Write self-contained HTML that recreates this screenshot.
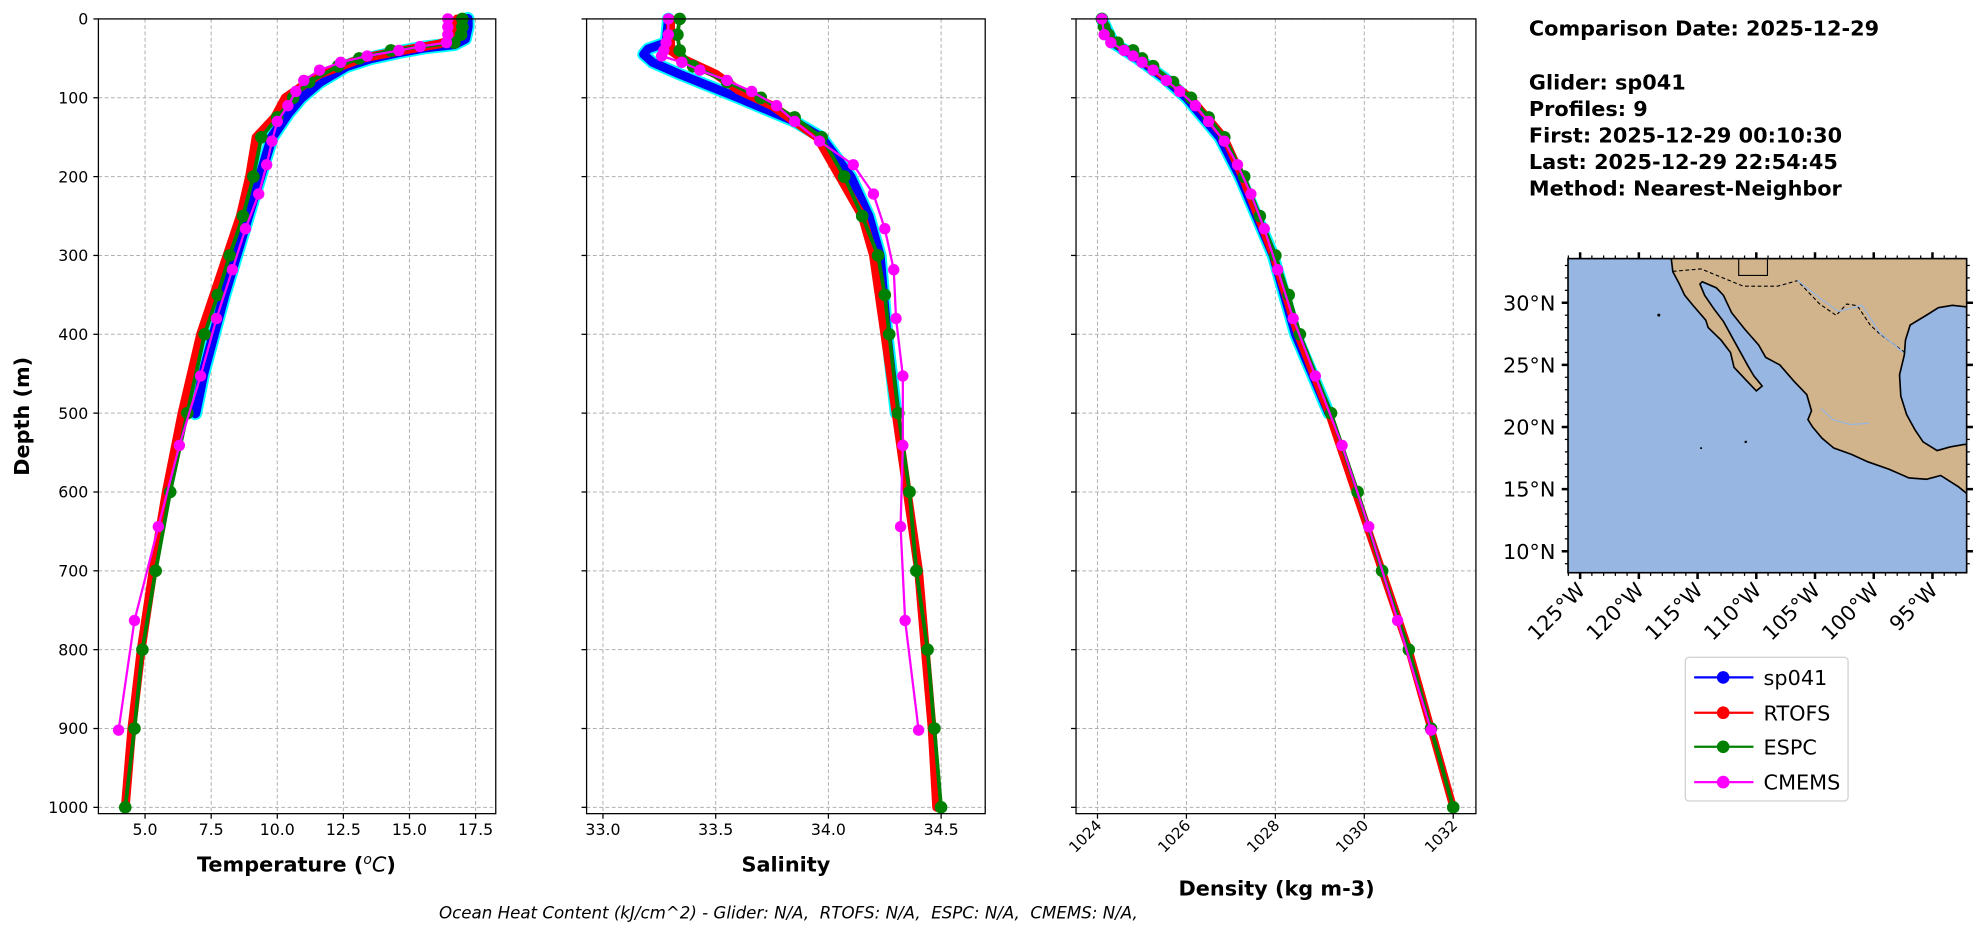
<!DOCTYPE html>
<html><head><meta charset="utf-8"><style>
html,body{margin:0;padding:0;background:#fff;}
svg{display:block;font-family:"DejaVu Sans","Liberation Sans",sans-serif;}
</style></head><body>
<svg id="s" width="1978" height="934" viewBox="0 0 1568 740.4" preserveAspectRatio="none" xmlns="http://www.w3.org/2000/svg"></svg>
<script>
const S=document.getElementById('s');let h='';
const Y0=15,PY=0.625; const yd=d=>Y0+d*PY; const YB=645;
function axes(x0,x1,ticks,labelfn,rot,depthLabels){
 let o='';
 ticks.forEach(t=>{const x=labelfn(t);o+=`<line x1="${x}" y1="${Y0}" x2="${x}" y2="${YB}" stroke="#b0b0b0" stroke-width="0.8" stroke-dasharray="3,2"/>`;
 o+=`<line x1="${x}" y1="${YB}" x2="${x}" y2="${YB+4}" stroke="#000"/>`;});
 for(let d=0;d<=1000;d+=100){const y=yd(d);o+=`<line x1="${x0}" y1="${y}" x2="${x1}" y2="${y}" stroke="#b0b0b0" stroke-width="0.8" stroke-dasharray="3,2"/><line x1="${x0-4}" y1="${y}" x2="${x0}" y2="${y}" stroke="#000"/>`;
 if(depthLabels)o+=`<text x="${x0-8}" y="${y+4.5}" font-size="12.5" text-anchor="end">${d}</text>`;}
 return o;}
function series(pts,fx,col,w,r){
 let d=pts.map((p,i)=>(i?'L':'M')+fx(p[1]).toFixed(1)+','+yd(p[0]).toFixed(1)).join('');
 let o=`<path d="${d}" fill="none" stroke="${col}" stroke-width="${w}" stroke-linejoin="round" stroke-linecap="round"/>`;
 if(r)pts.forEach(p=>o+=`<circle cx="${fx(p[1]).toFixed(1)}" cy="${yd(p[0]).toFixed(1)}" r="${r}" fill="${col}"/>`);
 return o;}
const fT=t=>115+(t-5)*20.96;
const gT=[[0,17.2],[10,17.2],[25,17.1],[32,16.7],[36,15.6],[42,14.6],[50,13.5],[60,12.6],[80,11.6],[100,10.9],[120,10.4],[150,9.8],[200,9.35],[250,8.9],[300,8.45],[350,8.0],[400,7.6],[450,7.2],[500,6.9]];
const rT=[[0,16.8],[25,16.7],[32,16.1],[36,15.4],[42,14.4],[50,13.2],[70,11.6],[100,10.3],[125,9.9],[150,9.2],[200,8.95],[250,8.6],[300,8.1],[350,7.6],[400,7.1],[500,6.4],[600,5.8],[700,5.3],[800,4.85],[900,4.5],[1000,4.25]];
const eT=[[0,17.0],[10,17.0],[20,16.95],[30,16.7],[40,14.3],[50,13.1],[60,12.3],[80,11.2],[100,10.6],[125,10.0],[150,9.4],[200,9.1],[250,8.7],[300,8.2],[350,7.75],[400,7.25],[500,6.6],[600,5.95],[700,5.4],[800,4.9],[900,4.6],[1000,4.25]];
const cT=[[0,16.45],[10,16.45],[20,16.45],[30,16.4],[35,15.4],[40,14.6],[47,13.4],[55,12.4],[65,11.6],[78,11.0],[92,10.7],[110,10.4],[130,10.0],[155,9.8],[185,9.6],[222,9.3],[266,8.8],[318,8.3],[380,7.7],[453,7.1],[541,6.3],[644,5.5],[763,4.6],[902,4.0]];
h+=axes(78,393,[5,7.5,10,12.5,15,17.5],fT,0,true);
h+=series(gT,fT,'cyan',11,0)+series(gT,fT,'blue',8,0)+series(rT,fT,'red',7,0)+series(eT,fT,'green',3,5)+series(cT,fT,'magenta',1.8,4.5);
[5,7.5,10,12.5,15,17.5].forEach(t=>h+=`<text x="${fT(t)}" y="${YB+17}" font-size="12.5" text-anchor="middle">${t.toFixed(1)}</text>`);
const fS=s=>478+(s-33)*178.7;
const gS=[[0,33.29],[30,33.28],[38,33.2],[45,33.18],[55,33.22],[70,33.34],[100,33.6],[130,33.85],[150,33.97],[200,34.1],[250,34.18],[300,34.23],[400,34.26],[500,34.3]];
const rS=[[0,33.3],[40,33.3],[50,33.35],[70,33.5],[90,33.6],[110,33.75],[150,33.95],[200,34.05],[250,34.15],[300,34.2],[400,34.25],[500,34.3],[600,34.35],[700,34.4],[800,34.43],[900,34.46],[1000,34.48]];
const eS=[[0,33.34],[20,33.33],[40,33.34],[60,33.4],[80,33.55],[100,33.7],[125,33.85],[150,33.97],[200,34.07],[250,34.15],[300,34.22],[350,34.25],[400,34.27],[500,34.31],[600,34.36],[700,34.39],[800,34.44],[900,34.47],[1000,34.5]];
const cS=[[0,33.29],[20,33.29],[30,33.28],[40,33.27],[47,33.26],[55,33.35],[65,33.43],[78,33.55],[92,33.66],[110,33.77],[130,33.85],[155,33.96],[185,34.11],[222,34.2],[266,34.25],[318,34.29],[380,34.3],[453,34.33],[541,34.33],[644,34.32],[763,34.34],[902,34.4]];
h+=axes(465,781,[33,33.5,34,34.5],fS,0,false);
h+=series(gS,fS,'cyan',10,0)+series(gS,fS,'blue',7,0)+series(rS,fS,'red',7,0)+series(eS,fS,'green',3,5)+series(cS,fS,'magenta',1.8,4.5);
[33,33.5,34,34.5].forEach(t=>h+=`<text x="${fS(t)}" y="${YB+17}" font-size="12.5" text-anchor="middle">${t.toFixed(1)}</text>`);
const fD=v=>870+(v-1024)*35.25;
const gD=[[0,1024.1],[30,1024.35],[50,1024.9],[75,1025.5],[100,1026.0],[150,1026.75],[200,1027.2],[300,1027.95],[400,1028.45],[500,1029.2]];
const rD=[[0,1024.05],[30,1024.35],[50,1024.95],[100,1026.1],[150,1026.85],[200,1027.25],[300,1027.95],[400,1028.5],[500,1029.2],[600,1029.8],[700,1030.4],[800,1031.0],[900,1031.5],[1000,1032.0]];
const eD=[[0,1024.1],[10,1024.15],[20,1024.25],[30,1024.45],[40,1024.8],[50,1025.0],[60,1025.25],[80,1025.7],[100,1026.1],[125,1026.5],[150,1026.85],[200,1027.3],[250,1027.65],[300,1028.0],[350,1028.3],[400,1028.55],[500,1029.25],[600,1029.85],[700,1030.4],[800,1031.0],[900,1031.5],[1000,1032.0]];
const cD=[[0,1024.1],[20,1024.15],[30,1024.3],[40,1024.6],[47,1024.8],[55,1025.0],[65,1025.25],[78,1025.55],[92,1025.85],[110,1026.2],[130,1026.5],[155,1026.85],[185,1027.15],[222,1027.45],[266,1027.75],[318,1028.05],[380,1028.4],[453,1028.9],[541,1029.5],[644,1030.1],[763,1030.75],[902,1031.5]];
h+=axes(853,1170,[1024,1026,1028,1030,1032],fD,0,false);
h+=series(gD,fD,'cyan',10,0)+series(gD,fD,'blue',7,0)+series(rD,fD,'red',6,0)+series(eD,fD,'green',3,5)+series(cD,fD,'magenta',1.8,4.5);
[1024,1026,1028,1030,1032].forEach(t=>{const x=fD(t);h+=`<text transform="translate(${x+4},${YB+10}) rotate(-45)" font-size="12" text-anchor="end">${t}</text>`;});
[[78,393],[465,781],[853,1170]].forEach(a=>h+=`<rect x="${a[0]}" y="${Y0}" width="${a[1]-a[0]}" height="${YB-Y0}" fill="none" stroke="#000" stroke-width="1"/>`);
h+=`<text x="235" y="691" font-size="16.5" font-weight="bold" text-anchor="middle">Temperature (<tspan font-style="italic" font-weight="normal" font-size="11" dy="-6">o</tspan><tspan font-style="italic" font-weight="normal" dy="6">C</tspan>)</text>`;
h+=`<text x="623" y="691" font-size="16.5" font-weight="bold" text-anchor="middle">Salinity</text>`;
h+=`<text x="1012" y="710" font-size="16.5" font-weight="bold" text-anchor="middle">Density (kg m-3)</text>`;
h+=`<text transform="translate(23,330) rotate(-90)" font-size="16.5" font-weight="bold" text-anchor="middle">Depth (m)</text>`;
h+=`<text x="625" y="728" font-size="13.2" font-style="italic" text-anchor="middle" xml:space="preserve" style="white-space:pre">Ocean Heat Content (kJ/cm^2) - Glider: N/A,  RTOFS: N/A,  ESPC: N/A,  CMEMS: N/A,</text>`;
const info=[[28,'Comparison Date: 2025-12-29'],[71,'Glider: sp041'],[92,'Profiles: 9'],[113,'First: 2025-12-29 00:10:30'],[134,'Last: 2025-12-29 22:54:45'],[155,'Method: Nearest-Neighbor']];
info.forEach(a=>h+=`<text x="1212" y="${a[0]}" font-size="16.5" font-weight="bold">${a[1]}</text>`);
const MX0=1243,MX1=1559,MY0=205,MY1=454;
const mx=lon=>1252.6+(lon+125)*9.31, my=lat=>240+(30-lat)*9.85;
const P=a=>a.map((p,i)=>(i?'L':'M')+mx(p[0]).toFixed(1)+','+my(p[1]).toFixed(1)).join('');
h+=`<defs><clipPath id="mc"><rect x="${MX0}" y="${MY0}" width="${MX1-MX0}" height="${MY1-MY0}"/></clipPath></defs>`;
h+=`<rect x="${MX0}" y="${MY0}" width="${MX1-MX0}" height="${MY1-MY0}" fill="#97b6e1"/>`;
const land=[[-117.3,34],[-117.1,32.5],[-116.6,31.6],[-116.1,30.6],[-115.4,29.8],[-114.3,28.6],[-114.1,28.0],[-113.0,27.0],[-112.2,26.0],[-111.9,24.8],[-110.7,23.6],[-110.0,22.9],[-109.5,23.3],[-110.2,24.1],[-110.7,24.9],[-111.4,26.1],[-112.1,27.3],[-112.8,28.5],[-113.6,29.5],[-114.4,30.6],[-114.8,31.5],[-114.6,31.7],[-113.4,31.2],[-112.8,30.6],[-112.1,29.2],[-111.0,27.9],[-109.8,26.6],[-109.2,25.6],[-108.0,25.0],[-106.8,23.7],[-105.7,22.6],[-105.3,21.3],[-105.6,20.6],[-105.2,20.0],[-104.4,19.1],[-103.4,18.3],[-101.9,17.8],[-100.5,17.2],[-98.7,16.6],[-97.0,15.9],[-95.5,15.8],[-94.3,16.1],[-92.8,15.2],[-91.5,14.2],[-91.5,18.6],[-92.3,18.6],[-93.5,18.4],[-94.6,18.1],[-95.8,18.8],[-96.5,19.8],[-97.2,21.0],[-97.7,22.5],[-97.8,24.2],[-97.4,25.8],[-97.3,27.0],[-96.9,28.2],[-95.5,29.0],[-94.5,29.6],[-93.3,29.8],[-91.5,29.6],[-91.5,34]];
h+=`<g clip-path="url(#mc)"><path d="${P(land)}Z" fill="#d2b48c" stroke="#000" stroke-width="1.3"/>`;
h+=`<path d="${P([[-117.1,32.53],[-114.7,32.72],[-111.1,31.33],[-108.2,31.33],[-106.5,31.78],[-104.6,29.9],[-103.2,28.98],[-102.3,29.9],[-101.4,29.77],[-100.3,28.2],[-99.5,27.5],[-97.2,25.9]])}" fill="none" stroke="#000" stroke-width="0.9" stroke-dasharray="3,2"/>`;
h+=`<path d="${P([[-111.5,33.5],[-111.5,32.2],[-109.05,32.2],[-109.05,33.5]])}" fill="none" stroke="#000" stroke-width="0.9"/>`;
h+=`<path d="${P([[-106.5,31.8],[-104.5,30.3],[-103,29.3],[-101,29.8],[-99.5,27.6],[-97.5,26]])}" fill="none" stroke="#97b6e1" stroke-width="1"/>`;
h+=`<path d="${P([[-100.4,20.3],[-102,20.2],[-103.5,20.6],[-104.5,21.5]])}" fill="none" stroke="#97b6e1" stroke-width="1"/>`;
h+=`<circle cx="${mx(-118.3)}" cy="${my(29.0)}" r="1.2" fill="#000"/><circle cx="${mx(-110.9)}" cy="${my(18.8)}" r="1" fill="#000"/><circle cx="${mx(-114.7)}" cy="${my(18.3)}" r="0.8" fill="#000"/></g>`;
h+=`<rect x="${MX0}" y="${MY0}" width="${MX1-MX0}" height="${MY1-MY0}" fill="none" stroke="#000" stroke-width="1.3"/>`;
for(let lon=-126;lon<=-92;lon++){const x=mx(lon);if(x<MX0||x>MX1)continue;const maj=lon%5==0;const L=maj?5:2.5;
 h+=`<line x1="${x}" y1="${MY1}" x2="${x}" y2="${MY1+L}" stroke="#000" stroke-width="${maj?2:1}"/><line x1="${x}" y1="${MY0}" x2="${x}" y2="${MY0-L}" stroke="#000" stroke-width="${maj?2:1}"/>`;
 if(maj)h+=`<text transform="translate(${x+5},${MY1+15}) rotate(-45)" font-size="16.5" text-anchor="end">${-lon}°W</text>`;}
for(let lat=9;lat<=33;lat++){const y=my(lat);if(y<MY0||y>MY1)continue;const maj=lat%5==0;const L=maj?5:2.5;
 h+=`<line x1="${MX0}" y1="${y}" x2="${MX0-L}" y2="${y}" stroke="#000" stroke-width="${maj?2:1}"/><line x1="${MX1}" y1="${y}" x2="${MX1+L}" y2="${y}" stroke="#000" stroke-width="${maj?2:1}"/>`;
 if(maj)h+=`<text x="${MX0-10}" y="${y+6}" font-size="16.5" text-anchor="end">${lat}°N</text>`;}
h+=`<rect x="1336" y="521" width="129" height="114" rx="3" fill="#fff" stroke="#d0d0d0" stroke-width="1"/>`;
[['sp041','blue',537],['RTOFS','red',565],['ESPC','green',592],['CMEMS','magenta',620]].forEach(a=>{
 h+=`<line x1="1343" y1="${a[2]}" x2="1390" y2="${a[2]}" stroke="${a[1]}" stroke-width="1.8"/><circle cx="1366" cy="${a[2]}" r="5" fill="${a[1]}"/><text x="1398" y="${a[2]+6}" font-size="16.5">${a[0]}</text>`;});
S.innerHTML=h;
</script>
</body></html>
